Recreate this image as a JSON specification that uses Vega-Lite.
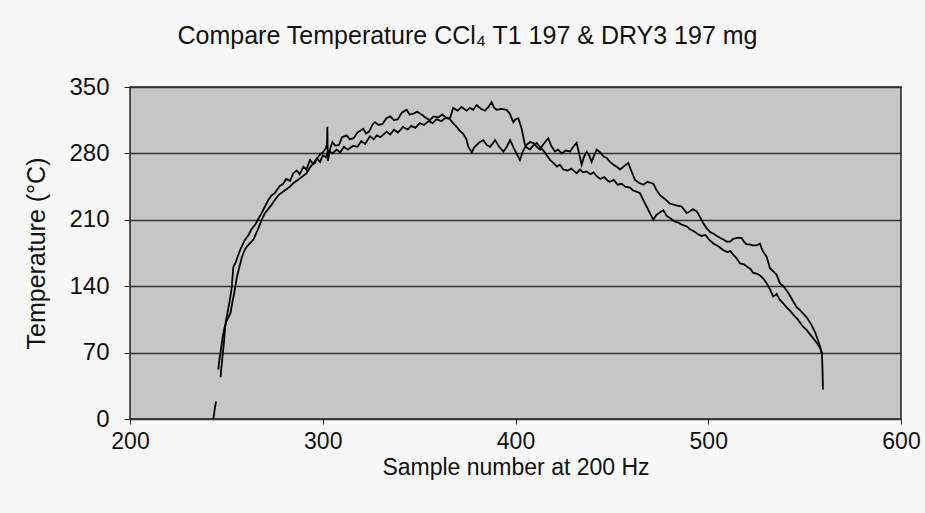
{
  "$schema": "https://vega.github.io/schema/vega-lite/v6.json",
  "width": 771,
  "height": 332,
  "autosize": "none",
  "padding": {"left": 130, "top": 87, "right": 24, "bottom": 94},
  "background": "#f8f8f8",
  "title": {
    "text": "Compare Temperature CCl₄ T1 197 & DRY3 197 mg",
    "font": "Liberation Sans",
    "fontSize": 25,
    "fontWeight": "normal",
    "color": "#111111",
    "anchor": "middle",
    "dx": -48,
    "offset": 26
  },
  "config": {
    "view": {"fill": "#c6c6c6", "stroke": "#222222", "strokeWidth": 1.5}
  },
  "data": {
    "values": [
      {"series": "C", "sample": 243.2, "temp": 0},
      {"series": "C", "sample": 244.6, "temp": 18.6},
      {"series": "A", "sample": 247, "temp": 44},
      {"series": "A", "sample": 247.3, "temp": 52},
      {"series": "A", "sample": 247.8, "temp": 62},
      {"series": "A", "sample": 248.2, "temp": 70},
      {"series": "A", "sample": 248.8, "temp": 82},
      {"series": "A", "sample": 249.3, "temp": 95},
      {"series": "A", "sample": 249.8, "temp": 104},
      {"series": "A", "sample": 250.5, "temp": 111},
      {"series": "A", "sample": 251.5, "temp": 122},
      {"series": "A", "sample": 252.7, "temp": 137},
      {"series": "A", "sample": 253.2, "temp": 150},
      {"series": "A", "sample": 253.6, "temp": 160},
      {"series": "A", "sample": 255, "temp": 166},
      {"series": "A", "sample": 256, "temp": 172},
      {"series": "A", "sample": 257.5, "temp": 180},
      {"series": "A", "sample": 259.7, "temp": 189},
      {"series": "A", "sample": 261.5, "temp": 194},
      {"series": "A", "sample": 263, "temp": 200},
      {"series": "A", "sample": 265, "temp": 205},
      {"series": "A", "sample": 266.6, "temp": 211},
      {"series": "A", "sample": 268, "temp": 216},
      {"series": "A", "sample": 270, "temp": 224},
      {"series": "A", "sample": 271.8, "temp": 231},
      {"series": "A", "sample": 273.5, "temp": 236},
      {"series": "A", "sample": 275, "temp": 238},
      {"series": "A", "sample": 277.8, "temp": 246},
      {"series": "A", "sample": 279.5, "temp": 248},
      {"series": "A", "sample": 281, "temp": 253},
      {"series": "A", "sample": 283, "temp": 251},
      {"series": "A", "sample": 284.7, "temp": 259},
      {"series": "A", "sample": 286.5, "temp": 262},
      {"series": "A", "sample": 288, "temp": 258},
      {"series": "A", "sample": 290, "temp": 266},
      {"series": "A", "sample": 291.5, "temp": 263},
      {"series": "A", "sample": 293.4, "temp": 273},
      {"series": "A", "sample": 295, "temp": 269},
      {"series": "A", "sample": 297, "temp": 275},
      {"series": "A", "sample": 298.6, "temp": 271},
      {"series": "A", "sample": 300, "temp": 278},
      {"series": "A", "sample": 301.5, "temp": 276},
      {"series": "A", "sample": 303, "temp": 283},
      {"series": "A", "sample": 305, "temp": 280},
      {"series": "A", "sample": 307.2, "temp": 284},
      {"series": "A", "sample": 309, "temp": 281},
      {"series": "A", "sample": 311, "temp": 287},
      {"series": "A", "sample": 313, "temp": 284},
      {"series": "A", "sample": 315.8, "temp": 288},
      {"series": "A", "sample": 318, "temp": 287},
      {"series": "A", "sample": 320, "temp": 293},
      {"series": "A", "sample": 322, "temp": 290},
      {"series": "A", "sample": 324.5, "temp": 298},
      {"series": "A", "sample": 326.5, "temp": 295},
      {"series": "A", "sample": 328, "temp": 299},
      {"series": "A", "sample": 330, "temp": 297},
      {"series": "A", "sample": 333.1, "temp": 303},
      {"series": "A", "sample": 335, "temp": 300},
      {"series": "A", "sample": 337, "temp": 305},
      {"series": "A", "sample": 339, "temp": 302},
      {"series": "A", "sample": 341.7, "temp": 308},
      {"series": "A", "sample": 344, "temp": 305},
      {"series": "A", "sample": 346, "temp": 309},
      {"series": "A", "sample": 348, "temp": 307},
      {"series": "A", "sample": 350.4, "temp": 312},
      {"series": "A", "sample": 352.5, "temp": 310},
      {"series": "A", "sample": 355, "temp": 314},
      {"series": "A", "sample": 357, "temp": 312},
      {"series": "A", "sample": 359, "temp": 316},
      {"series": "A", "sample": 361.5, "temp": 314},
      {"series": "A", "sample": 364, "temp": 318},
      {"series": "A", "sample": 366, "temp": 317},
      {"series": "A", "sample": 367.7, "temp": 328},
      {"series": "A", "sample": 370, "temp": 325},
      {"series": "A", "sample": 372, "temp": 329},
      {"series": "A", "sample": 374.6, "temp": 325},
      {"series": "A", "sample": 376.4, "temp": 328},
      {"series": "A", "sample": 378, "temp": 326},
      {"series": "A", "sample": 379.9, "temp": 331},
      {"series": "A", "sample": 382, "temp": 327},
      {"series": "A", "sample": 384.2, "temp": 325},
      {"series": "A", "sample": 386, "temp": 329},
      {"series": "A", "sample": 387.6, "temp": 334},
      {"series": "A", "sample": 389, "temp": 328},
      {"series": "A", "sample": 390.2, "temp": 326},
      {"series": "A", "sample": 392.5, "temp": 327},
      {"series": "A", "sample": 395.4, "temp": 326},
      {"series": "A", "sample": 397, "temp": 322},
      {"series": "A", "sample": 398.9, "temp": 313},
      {"series": "A", "sample": 400, "temp": 316},
      {"series": "A", "sample": 401.5, "temp": 317},
      {"series": "A", "sample": 403.2, "temp": 306},
      {"series": "A", "sample": 404.9, "temp": 289},
      {"series": "A", "sample": 406, "temp": 286},
      {"series": "A", "sample": 407.5, "temp": 284},
      {"series": "A", "sample": 409, "temp": 288},
      {"series": "A", "sample": 411, "temp": 291},
      {"series": "A", "sample": 413, "temp": 286},
      {"series": "A", "sample": 414.5, "temp": 283},
      {"series": "A", "sample": 416.2, "temp": 278},
      {"series": "A", "sample": 418, "temp": 273},
      {"series": "A", "sample": 419.6, "temp": 270},
      {"series": "A", "sample": 421.5, "temp": 266},
      {"series": "A", "sample": 423, "temp": 268},
      {"series": "A", "sample": 424.8, "temp": 263},
      {"series": "A", "sample": 427, "temp": 262},
      {"series": "A", "sample": 429, "temp": 264},
      {"series": "A", "sample": 431.7, "temp": 259},
      {"series": "A", "sample": 433.5, "temp": 263},
      {"series": "A", "sample": 435, "temp": 260},
      {"series": "A", "sample": 436.9, "temp": 261},
      {"series": "A", "sample": 439, "temp": 258},
      {"series": "A", "sample": 440.5, "temp": 260},
      {"series": "A", "sample": 442.1, "temp": 256},
      {"series": "A", "sample": 444, "temp": 253},
      {"series": "A", "sample": 446, "temp": 255},
      {"series": "A", "sample": 448, "temp": 251},
      {"series": "A", "sample": 449, "temp": 250},
      {"series": "A", "sample": 451, "temp": 252},
      {"series": "A", "sample": 453, "temp": 247},
      {"series": "A", "sample": 455, "temp": 248},
      {"series": "A", "sample": 457, "temp": 245},
      {"series": "A", "sample": 459.4, "temp": 244},
      {"series": "A", "sample": 461, "temp": 241},
      {"series": "A", "sample": 462.5, "temp": 240},
      {"series": "A", "sample": 464.6, "temp": 238},
      {"series": "A", "sample": 466, "temp": 232},
      {"series": "A", "sample": 468, "temp": 224},
      {"series": "A", "sample": 470, "temp": 216},
      {"series": "A", "sample": 471.5, "temp": 210},
      {"series": "A", "sample": 473, "temp": 215},
      {"series": "A", "sample": 475, "temp": 218},
      {"series": "A", "sample": 476.7, "temp": 220},
      {"series": "A", "sample": 478.5, "temp": 214},
      {"series": "A", "sample": 480.1, "temp": 212},
      {"series": "A", "sample": 482.7, "temp": 208},
      {"series": "A", "sample": 484.5, "temp": 207},
      {"series": "A", "sample": 486.2, "temp": 205},
      {"series": "A", "sample": 488.8, "temp": 203},
      {"series": "A", "sample": 490.5, "temp": 200},
      {"series": "A", "sample": 492.5, "temp": 198},
      {"series": "A", "sample": 494.5, "temp": 195},
      {"series": "A", "sample": 496.5, "temp": 193},
      {"series": "A", "sample": 498.5, "temp": 194},
      {"series": "A", "sample": 500.5, "temp": 189},
      {"series": "A", "sample": 502.6, "temp": 185},
      {"series": "A", "sample": 504.5, "temp": 183},
      {"series": "A", "sample": 506, "temp": 181},
      {"series": "A", "sample": 507.8, "temp": 178},
      {"series": "A", "sample": 510, "temp": 176},
      {"series": "A", "sample": 511.5, "temp": 177},
      {"series": "A", "sample": 513, "temp": 173},
      {"series": "A", "sample": 514.5, "temp": 170},
      {"series": "A", "sample": 516.5, "temp": 164},
      {"series": "A", "sample": 518.5, "temp": 163},
      {"series": "A", "sample": 520.5, "temp": 160},
      {"series": "A", "sample": 522, "temp": 158},
      {"series": "A", "sample": 523.4, "temp": 154},
      {"series": "A", "sample": 525.5, "temp": 153},
      {"series": "A", "sample": 527, "temp": 151},
      {"series": "A", "sample": 528.6, "temp": 148},
      {"series": "A", "sample": 530.3, "temp": 143},
      {"series": "A", "sample": 532, "temp": 137},
      {"series": "A", "sample": 533.7, "temp": 129},
      {"series": "A", "sample": 535.5, "temp": 132},
      {"series": "A", "sample": 537, "temp": 126},
      {"series": "A", "sample": 538.9, "temp": 122},
      {"series": "A", "sample": 541, "temp": 117},
      {"series": "A", "sample": 542.5, "temp": 114},
      {"series": "A", "sample": 544.1, "temp": 110},
      {"series": "A", "sample": 546, "temp": 106},
      {"series": "A", "sample": 547.5, "temp": 102},
      {"series": "A", "sample": 549.3, "temp": 97},
      {"series": "A", "sample": 551, "temp": 94},
      {"series": "A", "sample": 552.5, "temp": 90},
      {"series": "A", "sample": 554.5, "temp": 85},
      {"series": "A", "sample": 556, "temp": 81},
      {"series": "A", "sample": 558, "temp": 75},
      {"series": "A", "sample": 559, "temp": 70},
      {"series": "A", "sample": 559.3, "temp": 50},
      {"series": "A", "sample": 559.5, "temp": 31},
      {"series": "B", "sample": 245.8, "temp": 52},
      {"series": "B", "sample": 246.2, "temp": 60},
      {"series": "B", "sample": 246.8, "temp": 68},
      {"series": "B", "sample": 247.5, "temp": 78},
      {"series": "B", "sample": 248.2, "temp": 88},
      {"series": "B", "sample": 249, "temp": 96},
      {"series": "B", "sample": 250, "temp": 103},
      {"series": "B", "sample": 251, "temp": 107},
      {"series": "B", "sample": 252.2, "temp": 112},
      {"series": "B", "sample": 253, "temp": 122},
      {"series": "B", "sample": 254, "temp": 132},
      {"series": "B", "sample": 254.5, "temp": 138},
      {"series": "B", "sample": 255.5, "temp": 150},
      {"series": "B", "sample": 256.7, "temp": 160},
      {"series": "B", "sample": 258, "temp": 170},
      {"series": "B", "sample": 259, "temp": 176},
      {"series": "B", "sample": 260, "temp": 180},
      {"series": "B", "sample": 262, "temp": 185},
      {"series": "B", "sample": 264, "temp": 189},
      {"series": "B", "sample": 265.5, "temp": 196},
      {"series": "B", "sample": 267, "temp": 203},
      {"series": "B", "sample": 268.3, "temp": 210},
      {"series": "B", "sample": 270, "temp": 217},
      {"series": "B", "sample": 272, "temp": 222},
      {"series": "B", "sample": 273.5, "temp": 226},
      {"series": "B", "sample": 275.2, "temp": 231},
      {"series": "B", "sample": 277, "temp": 236},
      {"series": "B", "sample": 279, "temp": 239},
      {"series": "B", "sample": 281, "temp": 242},
      {"series": "B", "sample": 283, "temp": 245},
      {"series": "B", "sample": 285, "temp": 249},
      {"series": "B", "sample": 287, "temp": 252},
      {"series": "B", "sample": 289, "temp": 255},
      {"series": "B", "sample": 291.6, "temp": 259},
      {"series": "B", "sample": 293, "temp": 264},
      {"series": "B", "sample": 294.5, "temp": 268},
      {"series": "B", "sample": 296, "temp": 270},
      {"series": "B", "sample": 297.5, "temp": 276},
      {"series": "B", "sample": 298.6, "temp": 279},
      {"series": "B", "sample": 300, "temp": 281},
      {"series": "B", "sample": 301.5, "temp": 285},
      {"series": "B", "sample": 302.2, "temp": 290},
      {"series": "B", "sample": 302.4, "temp": 308},
      {"series": "B", "sample": 302.6, "temp": 272},
      {"series": "B", "sample": 304, "temp": 286},
      {"series": "B", "sample": 305, "temp": 292},
      {"series": "B", "sample": 306.5, "temp": 288},
      {"series": "B", "sample": 308.5, "temp": 289},
      {"series": "B", "sample": 310, "temp": 297},
      {"series": "B", "sample": 312.4, "temp": 299},
      {"series": "B", "sample": 314, "temp": 295},
      {"series": "B", "sample": 316, "temp": 296},
      {"series": "B", "sample": 318, "temp": 302},
      {"series": "B", "sample": 321, "temp": 306},
      {"series": "B", "sample": 322.5, "temp": 301},
      {"series": "B", "sample": 324, "temp": 303},
      {"series": "B", "sample": 326, "temp": 311},
      {"series": "B", "sample": 327, "temp": 313},
      {"series": "B", "sample": 329, "temp": 310},
      {"series": "B", "sample": 331, "temp": 311},
      {"series": "B", "sample": 333, "temp": 317},
      {"series": "B", "sample": 335, "temp": 319},
      {"series": "B", "sample": 337, "temp": 315},
      {"series": "B", "sample": 339, "temp": 316},
      {"series": "B", "sample": 341, "temp": 323},
      {"series": "B", "sample": 343.5, "temp": 326},
      {"series": "B", "sample": 345, "temp": 321},
      {"series": "B", "sample": 347, "temp": 322},
      {"series": "B", "sample": 349, "temp": 324},
      {"series": "B", "sample": 350.4, "temp": 322},
      {"series": "B", "sample": 352, "temp": 320},
      {"series": "B", "sample": 353, "temp": 318},
      {"series": "B", "sample": 355.6, "temp": 315},
      {"series": "B", "sample": 357.5, "temp": 319},
      {"series": "B", "sample": 360, "temp": 318},
      {"series": "B", "sample": 362, "temp": 321},
      {"series": "B", "sample": 364.3, "temp": 317},
      {"series": "B", "sample": 366, "temp": 316},
      {"series": "B", "sample": 367.6, "temp": 312},
      {"series": "B", "sample": 369.5, "temp": 308},
      {"series": "B", "sample": 371, "temp": 304},
      {"series": "B", "sample": 372.8, "temp": 301},
      {"series": "B", "sample": 374.5, "temp": 295},
      {"series": "B", "sample": 375.5, "temp": 287},
      {"series": "B", "sample": 377.3, "temp": 281},
      {"series": "B", "sample": 378.5, "temp": 286},
      {"series": "B", "sample": 379.9, "temp": 289},
      {"series": "B", "sample": 381.5, "temp": 292},
      {"series": "B", "sample": 383.3, "temp": 294},
      {"series": "B", "sample": 385, "temp": 289},
      {"series": "B", "sample": 386.8, "temp": 287},
      {"series": "B", "sample": 388, "temp": 290},
      {"series": "B", "sample": 389.4, "temp": 294},
      {"series": "B", "sample": 391.5, "temp": 287},
      {"series": "B", "sample": 393.7, "temp": 282},
      {"series": "B", "sample": 395.5, "temp": 287},
      {"series": "B", "sample": 397.2, "temp": 294},
      {"series": "B", "sample": 399, "temp": 286},
      {"series": "B", "sample": 400.5, "temp": 280},
      {"series": "B", "sample": 402.3, "temp": 273},
      {"series": "B", "sample": 404, "temp": 283},
      {"series": "B", "sample": 405.8, "temp": 289},
      {"series": "B", "sample": 407.5, "temp": 292},
      {"series": "B", "sample": 409.3, "temp": 291},
      {"series": "B", "sample": 411, "temp": 287},
      {"series": "B", "sample": 412.7, "temp": 284},
      {"series": "B", "sample": 414.5, "temp": 290},
      {"series": "B", "sample": 417, "temp": 296},
      {"series": "B", "sample": 418.5, "temp": 288},
      {"series": "B", "sample": 420.5, "temp": 282},
      {"series": "B", "sample": 422, "temp": 284},
      {"series": "B", "sample": 424, "temp": 280},
      {"series": "B", "sample": 426, "temp": 283},
      {"series": "B", "sample": 428.3, "temp": 282},
      {"series": "B", "sample": 430, "temp": 287},
      {"series": "B", "sample": 431.7, "temp": 291},
      {"series": "B", "sample": 433, "temp": 280},
      {"series": "B", "sample": 434.3, "temp": 268},
      {"series": "B", "sample": 435.5, "temp": 276},
      {"series": "B", "sample": 436.9, "temp": 282},
      {"series": "B", "sample": 438.2, "temp": 278},
      {"series": "B", "sample": 439.5, "temp": 271},
      {"series": "B", "sample": 441, "temp": 279},
      {"series": "B", "sample": 442.1, "temp": 284},
      {"series": "B", "sample": 444, "temp": 281},
      {"series": "B", "sample": 445.6, "temp": 277},
      {"series": "B", "sample": 447.5, "temp": 275},
      {"series": "B", "sample": 449, "temp": 271},
      {"series": "B", "sample": 450.8, "temp": 268},
      {"series": "B", "sample": 452.5, "temp": 266},
      {"series": "B", "sample": 454.2, "temp": 263},
      {"series": "B", "sample": 456, "temp": 266},
      {"series": "B", "sample": 458.5, "temp": 270},
      {"series": "B", "sample": 460, "temp": 262},
      {"series": "B", "sample": 462, "temp": 252},
      {"series": "B", "sample": 464, "temp": 249},
      {"series": "B", "sample": 466.3, "temp": 247},
      {"series": "B", "sample": 468.5, "temp": 250},
      {"series": "B", "sample": 471.5, "temp": 248},
      {"series": "B", "sample": 473, "temp": 242},
      {"series": "B", "sample": 475, "temp": 236},
      {"series": "B", "sample": 477.5, "temp": 232},
      {"series": "B", "sample": 480.1, "temp": 227},
      {"series": "B", "sample": 482, "temp": 226},
      {"series": "B", "sample": 484, "temp": 225},
      {"series": "B", "sample": 486.2, "temp": 224},
      {"series": "B", "sample": 488.8, "temp": 217},
      {"series": "B", "sample": 490.5, "temp": 219},
      {"series": "B", "sample": 492, "temp": 221},
      {"series": "B", "sample": 494, "temp": 219},
      {"series": "B", "sample": 496, "temp": 212},
      {"series": "B", "sample": 497.5, "temp": 206},
      {"series": "B", "sample": 499.2, "temp": 201},
      {"series": "B", "sample": 501, "temp": 197},
      {"series": "B", "sample": 503, "temp": 195},
      {"series": "B", "sample": 504.5, "temp": 193},
      {"series": "B", "sample": 506.1, "temp": 191},
      {"series": "B", "sample": 508, "temp": 189},
      {"series": "B", "sample": 509.5, "temp": 187},
      {"series": "B", "sample": 511.3, "temp": 187},
      {"series": "B", "sample": 513, "temp": 190},
      {"series": "B", "sample": 515, "temp": 191},
      {"series": "B", "sample": 517.3, "temp": 191},
      {"series": "B", "sample": 518.5, "temp": 187},
      {"series": "B", "sample": 519.9, "temp": 184},
      {"series": "B", "sample": 521.5, "temp": 184},
      {"series": "B", "sample": 523, "temp": 183},
      {"series": "B", "sample": 525.1, "temp": 183},
      {"series": "B", "sample": 526.8, "temp": 185},
      {"series": "B", "sample": 528, "temp": 178},
      {"series": "B", "sample": 530.3, "temp": 171},
      {"series": "B", "sample": 532, "temp": 159},
      {"series": "B", "sample": 534, "temp": 155},
      {"series": "B", "sample": 535.5, "temp": 152},
      {"series": "B", "sample": 537.2, "temp": 143},
      {"series": "B", "sample": 539, "temp": 140},
      {"series": "B", "sample": 541.5, "temp": 133},
      {"series": "B", "sample": 543.5, "temp": 126},
      {"series": "B", "sample": 545.8, "temp": 118},
      {"series": "B", "sample": 547.5, "temp": 115},
      {"series": "B", "sample": 549.3, "temp": 111},
      {"series": "B", "sample": 551.5, "temp": 106},
      {"series": "B", "sample": 553.6, "temp": 99},
      {"series": "B", "sample": 555.5, "temp": 91},
      {"series": "B", "sample": 557.1, "temp": 82},
      {"series": "B", "sample": 558.2, "temp": 75},
      {"series": "B", "sample": 558.8, "temp": 69}
    ]
  },
  "mark": {"type": "line", "color": "#000000", "strokeWidth": 1.8},
  "encoding": {
    "x": {
      "field": "sample",
      "type": "quantitative",
      "scale": {"domain": [200, 600], "nice": false, "zero": false},
      "axis": {
        "values": [200, 300, 400, 500, 600],
        "title": "Sample number at 200 Hz",
        "grid": false,
        "domain": false,
        "labelFlush": false,
        "tickColor": "#222222",
        "tickSize": 5,
        "labelFont": "Liberation Sans",
        "labelFontSize": 23,
        "labelColor": "#111111",
        "labelPadding": 6,
        "titleFont": "Liberation Sans",
        "titleFontSize": 23,
        "titleFontWeight": "normal",
        "titleColor": "#111111",
        "titlePadding": 3
      }
    },
    "y": {
      "field": "temp",
      "type": "quantitative",
      "scale": {"domain": [0, 350], "nice": false},
      "axis": {
        "values": [0, 70, 140, 210, 280, 350],
        "title": "Temperature (°C)",
        "grid": true,
        "gridColor": "#333333",
        "gridWidth": 1.5,
        "domain": false,
        "tickColor": "#222222",
        "tickSize": 6,
        "labelFont": "Liberation Sans",
        "labelFontSize": 24,
        "labelColor": "#111111",
        "labelPadding": 15,
        "titleFont": "Liberation Sans",
        "titleFontSize": 25,
        "titleFontWeight": "normal",
        "titleColor": "#111111",
        "titlePadding": 19
      }
    },
    "detail": {"field": "series", "type": "nominal"},
    "order": {"field": "sample", "type": "quantitative"}
  }
}
